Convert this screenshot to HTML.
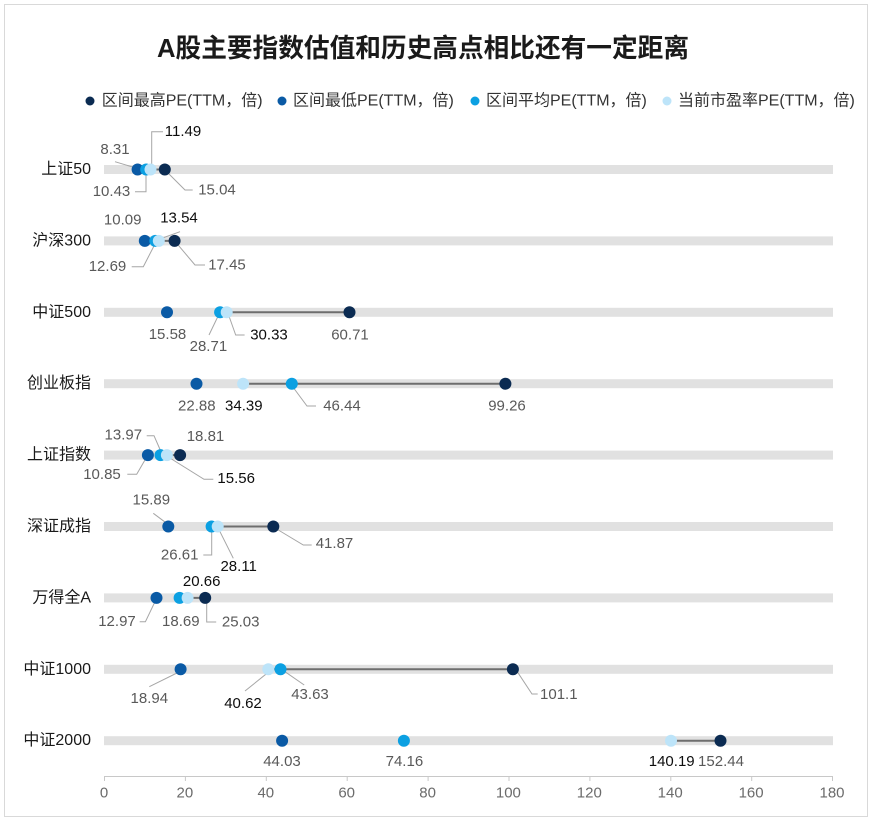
<!DOCTYPE html>
<html><head><meta charset="utf-8"><style>
html,body{margin:0;padding:0;background:#fff;}
svg{display:block;}
text{font-family:"Liberation Sans","Noto Sans CJK SC",sans-serif;}
.t{font-size:15px;fill:#595959;text-anchor:middle;dominant-baseline:central;}
.b{font-size:15px;fill:#0d0d0d;text-anchor:middle;dominant-baseline:central;}
.c{font-size:16px;fill:#1a1a1a;text-anchor:end;dominant-baseline:central;}
.lg{font-size:16px;fill:#333;dominant-baseline:central;}
.ax{font-size:15px;fill:#6b6b6b;text-anchor:middle;dominant-baseline:central;}
.ld{fill:none;stroke:#a6a6a6;stroke-width:1;}
.cn{stroke:#6e6e6e;stroke-width:2;}
.bar{fill:#e1e1e1;}
.mx{fill:#0b2b52;}.mn{fill:#0a5aa5;}.av{fill:#0ca0e2;}.cu{fill:#bde4f9;}
</style></head><body>
<svg width="872" height="824" viewBox="0 0 872 824" xmlns="http://www.w3.org/2000/svg">
<rect x="0" y="0" width="872" height="824" fill="#fff"/>
<rect x="4.5" y="4.5" width="863" height="812" fill="#fff" stroke="#d9d9d9" stroke-width="1"/>

<text x="157" y="48" style="font-size:26px;font-weight:bold;fill:#1a1a1a;dominant-baseline:central;" textLength="532" lengthAdjust="spacingAndGlyphs">A股主要指数估值和历史高点相比还有一定距离</text>

<!-- legend -->
<circle cx="90" cy="101" r="4.5" class="mx"/><text x="101.7" y="101" class="lg">区间最高PE(TTM，倍)</text>
<circle cx="282" cy="101" r="4.5" class="mn"/><text x="293" y="101" class="lg">区间最低PE(TTM，倍)</text>
<circle cx="475" cy="101" r="4.5" class="av"/><text x="486" y="101" class="lg">区间平均PE(TTM，倍)</text>
<circle cx="667" cy="101" r="4.5" class="cu"/><text x="678" y="101" class="lg">当前市盈率PE(TTM，倍)</text>

<!-- bars -->
<rect x="104" y="165" width="729" height="9" class="bar"/>
<rect x="104" y="236.4" width="729" height="9" class="bar"/>
<rect x="104" y="307.8" width="729" height="9" class="bar"/>
<rect x="104" y="379.2" width="729" height="9" class="bar"/>
<rect x="104" y="450.6" width="729" height="9" class="bar"/>
<rect x="104" y="522" width="729" height="9" class="bar"/>
<rect x="104" y="593.4" width="729" height="9" class="bar"/>
<rect x="104" y="664.8" width="729" height="9" class="bar"/>
<rect x="104" y="736.2" width="729" height="9" class="bar"/>

<!-- category labels -->
<text x="91" y="169.5" class="c">上证50</text>
<text x="91" y="240.9" class="c">沪深300</text>
<text x="91" y="312.3" class="c">中证500</text>
<text x="91" y="383.7" class="c">创业板指</text>
<text x="91" y="455.1" class="c">上证指数</text>
<text x="91" y="526.5" class="c">深证成指</text>
<text x="91" y="597.9" class="c">万得全A</text>
<text x="91" y="669.3" class="c">中证1000</text>
<text x="91" y="740.7" class="c">中证2000</text>

<!-- connectors -->
<line x1="150.5" y1="169.5" x2="164.8" y2="169.5" class="cn"/>
<line x1="158.8" y1="240.9" x2="174.6" y2="240.9" class="cn"/>
<line x1="226.7" y1="312.3" x2="349.5" y2="312.3" class="cn"/>
<line x1="243.1" y1="383.7" x2="505.4" y2="383.7" class="cn"/>
<line x1="166.9" y1="455.1" x2="180.1" y2="455.1" class="cn"/>
<line x1="217.7" y1="526.5" x2="273.3" y2="526.5" class="cn"/>
<line x1="187.6" y1="597.9" x2="205.2" y2="597.9" class="cn"/>
<line x1="268.3" y1="669.3" x2="512.9" y2="669.3" class="cn"/>
<line x1="671" y1="740.7" x2="720.5" y2="740.7" class="cn"/>

<!-- leader lines -->
<polyline points="115,161.7 136,168" class="ld"/>
<polyline points="163,131.7 151.7,131.7 151.7,165" class="ld"/>
<polyline points="135,191.7 146,191.7 146,175" class="ld"/>
<polyline points="167,172 185,190 192.7,190" class="ld"/>

<polyline points="180,231.7 157,240" class="ld"/>
<polyline points="131.7,266.7 143.3,266.7 155,244" class="ld"/>
<polyline points="176.7,243.3 195,265 205,265" class="ld"/>

<polyline points="209,335 218.6,315" class="ld"/>
<polyline points="228.6,315 235.7,335 244.6,335" class="ld"/>

<polyline points="292.9,387 307,406 316,406" class="ld"/>

<polyline points="146.7,435.7 154,435.7 160.7,451" class="ld"/>
<polyline points="127.3,474.3 136.7,474.3 146.7,457" class="ld"/>
<polyline points="168.3,457 204,479.3 213.3,479.3" class="ld"/>

<polyline points="153.3,513.3 166.7,523.3" class="ld"/>
<polyline points="203.3,555 211.7,555 211.7,530" class="ld"/>
<polyline points="218.3,528.3 233.3,558.3" class="ld"/>
<polyline points="278.3,530 303.3,545 311.7,545" class="ld"/>

<polyline points="139.7,621.7 145.4,621.7 155,601.7" class="ld"/>
<polyline points="206.7,600 206.7,622 216.2,622" class="ld"/>

<polyline points="181,671 149.3,686.7" class="ld"/>
<polyline points="269,671.7 245,691" class="ld"/>
<polyline points="285,671.7 304.2,685" class="ld"/>
<polyline points="516.6,670.7 532,694 537.7,694" class="ld"/>

<!-- dots: min, avg, current, max -->
<g>
<circle cx="137.6" cy="169.5" r="6" class="mn"/><circle cx="146.2" cy="169.5" r="6" class="av"/><circle cx="150.5" cy="169.5" r="6" class="cu"/><circle cx="164.8" cy="169.5" r="6" class="mx"/>
<circle cx="144.8" cy="240.9" r="6" class="mn"/><circle cx="155.3" cy="240.9" r="6" class="av"/><circle cx="158.8" cy="240.9" r="6" class="cu"/><circle cx="174.6" cy="240.9" r="6" class="mx"/>
<circle cx="167.0" cy="312.3" r="6" class="mn"/><circle cx="220.1" cy="312.3" r="6" class="av"/><circle cx="226.7" cy="312.3" r="6" class="cu"/><circle cx="349.5" cy="312.3" r="6" class="mx"/>
<circle cx="196.5" cy="383.7" r="6" class="mn"/><circle cx="243.1" cy="383.7" r="6" class="cu"/><circle cx="291.8" cy="383.7" r="6" class="av"/><circle cx="505.4" cy="383.7" r="6" class="mx"/>
<circle cx="147.9" cy="455.1" r="6" class="mn"/><circle cx="160.5" cy="455.1" r="6" class="av"/><circle cx="166.9" cy="455.1" r="6" class="cu"/><circle cx="180.1" cy="455.1" r="6" class="mx"/>
<circle cx="168.3" cy="526.5" r="6" class="mn"/><circle cx="211.6" cy="526.5" r="6" class="av"/><circle cx="217.7" cy="526.5" r="6" class="cu"/><circle cx="273.3" cy="526.5" r="6" class="mx"/>
<circle cx="156.5" cy="597.9" r="6" class="mn"/><circle cx="179.6" cy="597.9" r="6" class="av"/><circle cx="187.6" cy="597.9" r="6" class="cu"/><circle cx="205.2" cy="597.9" r="6" class="mx"/>
<circle cx="180.6" cy="669.3" r="6" class="mn"/><circle cx="268.3" cy="669.3" r="6" class="cu"/><circle cx="280.5" cy="669.3" r="6" class="av"/><circle cx="512.9" cy="669.3" r="6" class="mx"/>
<circle cx="282.1" cy="740.7" r="6" class="mn"/><circle cx="403.9" cy="740.7" r="6" class="av"/><circle cx="671.0" cy="740.7" r="6" class="cu"/><circle cx="720.5" cy="740.7" r="6" class="mx"/>
</g>

<!-- value labels -->
<text x="115" y="149.3" class="t">8.31</text>
<text x="183" y="131.5" class="b">11.49</text>
<text x="111.5" y="191.7" class="t">10.43</text>
<text x="217" y="190" class="t">15.04</text>

<text x="122.7" y="220" class="t">10.09</text>
<text x="179" y="218" class="b">13.54</text>
<text x="107.5" y="266.5" class="t">12.69</text>
<text x="227" y="265" class="t">17.45</text>

<text x="167.5" y="334.3" class="t">15.58</text>
<text x="208.4" y="346.7" class="t">28.71</text>
<text x="269" y="335" class="b">30.33</text>
<text x="350" y="335" class="t">60.71</text>

<text x="196.8" y="406" class="t">22.88</text>
<text x="243.8" y="406" class="b">34.39</text>
<text x="342" y="406" class="t">46.44</text>
<text x="507" y="406" class="t">99.26</text>

<text x="123.3" y="435" class="t">13.97</text>
<text x="205.5" y="436.7" class="t">18.81</text>
<text x="102" y="474.3" class="t">10.85</text>
<text x="236.2" y="478.3" class="b">15.56</text>

<text x="151.3" y="500" class="t">15.89</text>
<text x="179.7" y="555" class="t">26.61</text>
<text x="238.7" y="566.7" class="b">28.11</text>
<text x="334.5" y="543.3" class="t">41.87</text>

<text x="201.7" y="581.7" class="b">20.66</text>
<text x="117" y="621.7" class="t">12.97</text>
<text x="180.8" y="621.7" class="t">18.69</text>
<text x="240.7" y="622" class="t">25.03</text>

<text x="149.3" y="698.3" class="t">18.94</text>
<text x="243" y="703.3" class="b">40.62</text>
<text x="310" y="694.3" class="t">43.63</text>
<text x="558.8" y="694.3" class="t">101.1</text>

<text x="282" y="761.7" class="t">44.03</text>
<text x="404.4" y="761.7" class="t">74.16</text>
<text x="671.7" y="761.7" class="b">140.19</text>
<text x="721" y="761.7" class="t">152.44</text>

<!-- axis -->
<line x1="104" y1="776.5" x2="833" y2="776.5" stroke="#c8c8c8" stroke-width="1"/>
<g stroke="#c8c8c8" stroke-width="1">
<line x1="104.5" y1="776" x2="104.5" y2="781"/>
<line x1="185.4" y1="776" x2="185.4" y2="781"/>
<line x1="266.3" y1="776" x2="266.3" y2="781"/>
<line x1="347.2" y1="776" x2="347.2" y2="781"/>
<line x1="428.1" y1="776" x2="428.1" y2="781"/>
<line x1="509" y1="776" x2="509" y2="781"/>
<line x1="589.9" y1="776" x2="589.9" y2="781"/>
<line x1="670.8" y1="776" x2="670.8" y2="781"/>
<line x1="751.7" y1="776" x2="751.7" y2="781"/>
<line x1="832.5" y1="776" x2="832.5" y2="781"/>
</g>
<text x="104" y="793" class="ax">0</text>
<text x="184.9" y="793" class="ax">20</text>
<text x="265.8" y="793" class="ax">40</text>
<text x="346.7" y="793" class="ax">60</text>
<text x="427.6" y="793" class="ax">80</text>
<text x="508.4" y="793" class="ax">100</text>
<text x="589.3" y="793" class="ax">120</text>
<text x="670.2" y="793" class="ax">140</text>
<text x="751.1" y="793" class="ax">160</text>
<text x="832" y="793" class="ax">180</text>
</svg>
</body></html>
